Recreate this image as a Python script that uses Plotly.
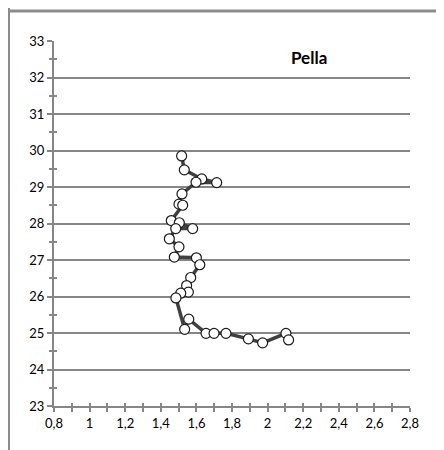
import plotly.graph_objects as go

# Data: (x value, depth value), in plotting order
xs = [1.517, 1.532, 1.630, 1.714, 1.598, 1.519, 1.502, 1.523, 1.459, 1.504,
      1.579, 1.484, 1.448, 1.502, 1.476, 1.600, 1.619, 1.568, 1.545, 1.555,
      1.512, 1.485, 1.534, 1.557, 1.654, 1.699, 1.766, 1.892, 1.972, 2.103, 2.118]
ys = [29.85, 29.47, 29.22, 29.12, 29.13, 28.81, 28.53, 28.50, 28.08, 28.02,
      27.86, 27.86, 27.58, 27.36, 27.08, 27.06, 26.87, 26.52, 26.30, 26.12,
      26.09, 25.96, 25.10, 25.38, 24.99, 24.99, 24.99, 24.84, 24.73, 24.99, 24.81]
title_text = "Pella"

axis_col = "#868686"
font_fam = "Lato, 'Liberation Sans', sans-serif"

# page offset of the plotly div (browser body margin)
OFF = 8
L, T, PW, PH = 54 - OFF, 41 - OFF, 356, 365
W, H = 436, 442
R = W - L - PW
B = H - T - PH

fig = go.Figure()
fig.add_trace(go.Scatter(
    x=xs, y=ys, mode="lines+markers",
    line=dict(color="#404040", width=3.5),
    marker=dict(size=10, color="white", line=dict(color="#1a1a1a", width=1.2)),
    showlegend=False,
))
fig.add_trace(go.Scatter(x=[None], y=[None], xaxis="x2", yaxis="y2", showlegend=False))

fig.update_layout(
    width=W, height=H,
    margin=dict(l=L, r=R, t=T, b=B),
    paper_bgcolor="white", plot_bgcolor="white",
    separators=", ",
    font=dict(family=font_fam, size=13, color="#000000"),
    xaxis=dict(range=[0.8, 2.8], dtick=0.2, tick0=0.8, showgrid=False, zeroline=False,
               showline=True, linecolor=axis_col, linewidth=2,
               ticks="outside", ticklen=4, tickwidth=2, tickcolor=axis_col,
               minor=dict(dtick=0.1, ticks="outside", ticklen=4, tickwidth=1.5, tickcolor=axis_col),
               fixedrange=True),
    yaxis=dict(range=[23, 33], dtick=1, showgrid=True, gridcolor=axis_col, gridwidth=2,
               zeroline=False, showline=True, linecolor=axis_col, linewidth=2,
               ticks="outside", ticklen=5, tickwidth=2, tickcolor=axis_col,
               minor=dict(dtick=0.5, ticks="outside", ticklen=3, tickwidth=1.5, tickcolor=axis_col),
               fixedrange=True),
    xaxis2=dict(overlaying="x", matches="x", range=[0.8, 2.8], dtick=0.2, tick0=0.8,
                showgrid=False, zeroline=False, showticklabels=False,
                ticks="inside", ticklen=3, tickwidth=2, tickcolor=axis_col,
                minor=dict(dtick=0.1, ticks="inside", ticklen=3, tickwidth=1.5, tickcolor=axis_col)),
    yaxis2=dict(overlaying="y", matches="y", range=[23, 33], dtick=1,
                showgrid=False, zeroline=False, showticklabels=False, ticks="",
                minor=dict(dtick=0.5, ticks="inside", ticklen=3, tickwidth=1.5, tickcolor=axis_col)),
    annotations=[dict(x=2.235, y=32.56, xref="x", yref="y", text="<b>" + title_text + "</b>",
                      showarrow=False, font=dict(size=17, family=font_fam))],
)

# frame lines (convert page pixels to paper coordinates)
def px_x(p):
    return (p - OFF - L) / PW

def px_y(p):
    return (T + PH - (p - OFF)) / PH

fig.add_shape(type="line", xref="paper", yref="paper", x0=px_x(9), x1=px_x(9),
              y0=px_y(452), y1=px_y(0), line=dict(color="#8c8c8c", width=2))
fig.add_shape(type="line", xref="paper", yref="paper", x0=px_x(8), x1=px_x(450),
              y0=px_y(11), y1=px_y(11), line=dict(color="#8c8c8c", width=3))

fig.write_html("out.html")
